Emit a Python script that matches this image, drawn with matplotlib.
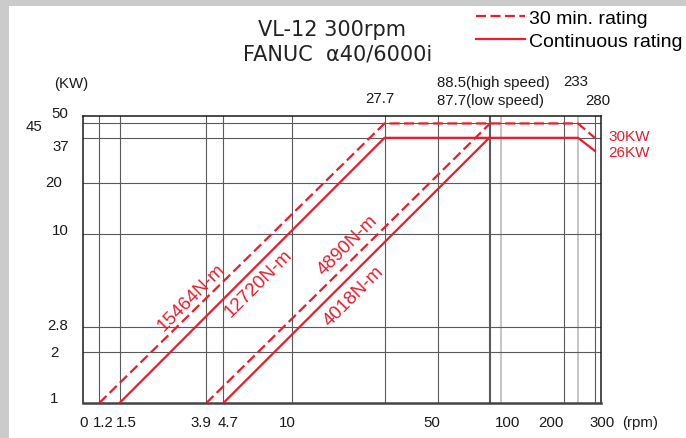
import matplotlib
matplotlib.use("Agg")
import matplotlib.pyplot as plt
import matplotlib.patches as mpatches

# -----------------------------
# DATA
# -----------------------------
# high speed range
hi_speed_30min = [1.2, 27.7, 233, 280]
hi_power_30min = [1, 45, 45, 37]
hi_speed_cont = [1.5, 27.7, 233, 280]
hi_power_cont = [1, 37, 37, 31]

# low speed range
lo_speed_30min = [3.9, 88.5]
lo_power_30min = [1, 45]
lo_speed_cont = [4.7, 87.7]
lo_power_cont = [1, 37]

# grid lines
grid_x_dark = [1.2, 1.5, 3.9, 4.7, 10, 27.7, 50, 87.7, 88.5, 200, 280]
grid_x_light = [100, 233]
grid_y = [2, 2.8, 10, 20, 37, 45]

# tick labels
x_tick_vals = [1, 1.2, 1.5, 3.9, 4.7, 10, 50, 100, 200, 300]
x_tick_labels = ["0", "1.2", "1.5", "3.9", "4.7", "10", "50", "100", "200", "300"]
y_tick_vals = [1, 2, 2.8, 10, 20, 37, 45, 50]
y_tick_labels = ["1", "2", "2.8", "10", "20", "37", "45", "50"]

torque_labels = ["15464N-m", "12720N-m", "4890N-m", "4018N-m"]

RED = "#ec1c2a"
DARK = "#1a1a1a"
TICK_FS = 10.8

# pixel nudges for crowded labels (layout only)
x_label_dx = [0.6, 4, 7, -5, 5, -5, -6, 6, -13, 1]
y_label_pos = [(-24, 5), (-24, 0), (-15, 2), (-14, 4), (-21, 1), (-14, -8), (-40, -3), (-14, 3)]
torque_xy = [(3.31, 4.26), (6.96, 5.12), (18.5, 8.6), (19.8, 4.35)]

# -----------------------------
# FIGURE
# -----------------------------
plt.rcParams["font.family"] = ["Liberation Sans", "DejaVu Sans"]

fig = plt.figure(figsize=(6.86, 4.39), dpi=100)
fig.patch.set_facecolor("#cbcbcb")
fig.patches.append(mpatches.Rectangle((9 / 686, 0), 1, 1 - 7 / 439,
                                      transform=fig.transFigure,
                                      facecolor="white", edgecolor="none", zorder=-5))

ax = fig.add_axes([82.7 / 686, 35 / 439, 518.3 / 686, 287.3 / 439])
ax.set_zorder(2)
ax.set_facecolor("white")
ax.set_xscale("log")
ax.set_yscale("log")
ax.set_xlim(1, 300)
ax.set_ylim(1, 50)
ax.set_xticks([])
ax.set_yticks([])
ax.minorticks_off()
ax.tick_params(which="both", length=0, labelbottom=False, labelleft=False)

for s in ax.spines.values():
    s.set_color(DARK)
    s.set_linewidth(1.1)
ax.spines["bottom"].set_linewidth(1.8)
ax.spines["bottom"].set_color("#444444")

# grid
for v in grid_x_dark:
    ax.axvline(v, color="#5a5a5a", lw=0.8, zorder=1)
for v in grid_x_light:
    ax.axvline(v, color="#b5b5b5", lw=1.1, zorder=1)
for v in grid_y:
    ax.axhline(v, color="#5a5a5a", lw=0.8, zorder=1)

# rating curves
dash = (0, (4.5, 2))
l30, = ax.plot(hi_speed_30min, hi_power_30min, color=RED, lw=1.6, ls=dash, zorder=3)
ax.plot(lo_speed_30min, lo_power_30min, color=RED, lw=1.6, ls=dash, zorder=3)
lc, = ax.plot(hi_speed_cont, hi_power_cont, color=RED, lw=1.6, zorder=3)
ax.plot(lo_speed_cont, lo_power_cont, color=RED, lw=1.6, zorder=3)

# torque labels along the slopes
for txt, (x, y) in zip(torque_labels, torque_xy):
    ax.text(x, y, txt, color=RED, fontsize=13.5, rotation=45,
            rotation_mode="anchor", ha="center", va="center", zorder=4)

# power labels at the right end
ax.annotate("30KW", xy=(hi_speed_30min[-1], hi_power_30min[-1]), xytext=(34, 2),
            textcoords="offset pixels", ha="center", va="center",
            color=RED, fontsize=11, annotation_clip=False)
ax.annotate("26KW", xy=(hi_speed_cont[-1], hi_power_cont[-1]), xytext=(34, -1),
            textcoords="offset pixels", ha="center", va="center",
            color=RED, fontsize=11, annotation_clip=False)

# x tick labels
for v, lab, dx in zip(x_tick_vals, x_tick_labels, x_label_dx):
    ax.annotate(lab, xy=(v, 0), xycoords=("data", "axes fraction"),
                xytext=(dx, -19), textcoords="offset pixels",
                ha="center", va="center", fontsize=TICK_FS, color=DARK,
                annotation_clip=False)
ax.annotate("(rpm)", xy=(300, 0), xycoords=("data", "axes fraction"),
            xytext=(39, -19), textcoords="offset pixels",
            ha="center", va="center", fontsize=TICK_FS, color=DARK,
            annotation_clip=False)

# y tick labels
for v, lab, (dx, dy) in zip(y_tick_vals, y_tick_labels, y_label_pos):
    ax.annotate(lab, xy=(0, v), xycoords=("axes fraction", "data"),
                xytext=(dx, dy), textcoords="offset pixels",
                ha="right", va="center", fontsize=TICK_FS, color=DARK,
                annotation_clip=False)
ax.annotate("(KW)", xy=(0, 1), xycoords="axes fraction",
            xytext=(-11, 33), textcoords="offset pixels",
            ha="center", va="center", fontsize=TICK_FS, color=DARK,
            annotation_clip=False)

# speed annotations above the chart
top_notes = [("27.7", 27.7, -4.5, 18, "center"),
             ("88.5(high speed)", 88.5, -53, 34, "left"),
             ("87.7(low speed)", 87.7, -52, 16, "left"),
             ("233", 233, -2, 35, "center"),
             ("280", 280, 3.5, 16, "center")]
for lab, v, dx, dy, ha in top_notes:
    ax.annotate(lab, xy=(v, 1), xycoords=("data", "axes fraction"),
                xytext=(dx, dy), textcoords="offset pixels",
                ha=ha, va="center", fontsize=TICK_FS, color=DARK,
                annotation_clip=False)

# title
fig.text(332.5 / 686, 1 - 30 / 439, "VL-12 300rpm", ha="center", va="center",
         fontsize=15, family="DejaVu Sans", color="#222222")
fig.text(338 / 686, 1 - 55 / 439, "FANUC  α40/6000i", ha="center", va="center",
         fontsize=15, family="DejaVu Sans", color="#222222")

# legend
fig.legend([l30, lc], ["30 min. rating", "Continuous rating"],
           loc="upper left", bbox_to_anchor=(476 / 686, 1 - 10 / 439),
           frameon=False, fontsize=14, handlelength=2.5, handletextpad=0.25,
           labelspacing=0.3, borderpad=0, borderaxespad=0)

plt.savefig("out.png", dpi=100)
